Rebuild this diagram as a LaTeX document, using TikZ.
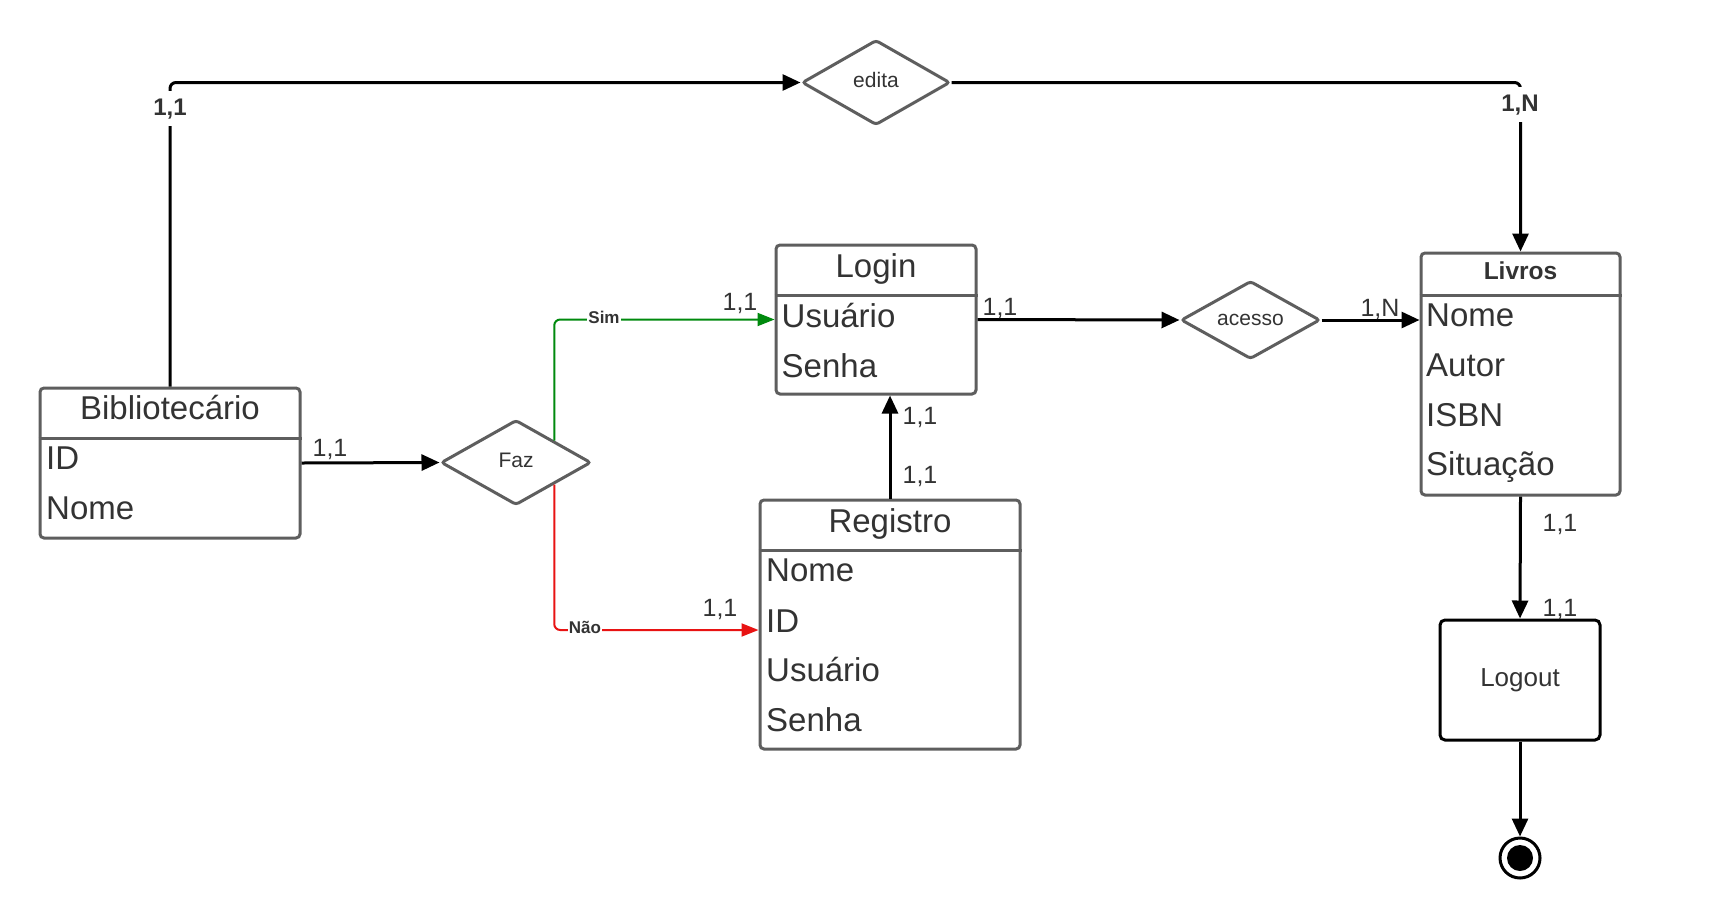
\documentclass[tikz,border=0pt]{standalone}
\usepackage{fontspec}
\setmainfont{Liberation Sans}
\usetikzlibrary{arrows.meta,shapes.geometric,calc}
\definecolor{txt}{HTML}{333333}
\definecolor{bord}{HTML}{5E5E5E}
\definecolor{simg}{HTML}{008A0E}
\definecolor{naor}{HTML}{E81313}
\newcommand{\reltext}[2][-4.5pt]{\smash{\raisebox{#1}{#2}}}
\begin{document}
\begin{tikzpicture}[x=1pt,y=-1pt,
  ent/.style={draw=bord, line width=3pt, rounded corners=4pt, inner sep=0, fill=white},
  sepline/.style={draw=bord, line width=3pt},
  rel/.style={diamond, draw=bord, line width=3pt, rounded corners=3pt, inner sep=0, fill=white,
    text=txt, font=\fontsize{21}{25}\selectfont},
  ttl/.style={font=\fontsize{33}{39}\selectfont, text=txt, inner sep=0, anchor=base},
  attr/.style={font=\fontsize{33}{39}\selectfont, text=txt, inner sep=0, anchor=base west},
  conn/.style={draw=black, line width=3pt, -{Triangle[length=18pt,width=16pt]}},
  connsim/.style={draw=simg, line width=2pt, rounded corners=6pt, -{Triangle[length=17pt,width=13pt]}},
  connnao/.style={draw=naor, line width=2pt, rounded corners=6pt, -{Triangle[length=17pt,width=13pt]}},
  card/.style={font=\fontsize{25}{30}\selectfont, text=txt, inner sep=0, anchor=base},
  bcard/.style={font=\bfseries\fontsize{24}{29}\selectfont, text=txt, fill=white, inner xsep=3pt, inner ysep=7pt, anchor=base},
  yn/.style={font=\bfseries\fontsize{17}{20}\selectfont, text=txt, fill=white, inner xsep=1pt, inner ysep=2pt, anchor=base}
]
\fill[white] (0,0) rectangle (1720,919);
\useasboundingbox (0,0) rectangle (1720,919);

% Bibliotecario
\node[ent, minimum width=260pt, minimum height=150pt] (bib) at (170,463) {};
\draw[sepline] (bib.west |- 0,438) -- (bib.east |- 0,438);
\node[ttl] (bibt) at (170,419) {Bibliotecário};
\node[attr] (bib1) at (46,469) {ID};
\node[attr] (bib2) at (46,519) {Nome};

% Login
\node[ent, minimum width=200pt, minimum height=149pt] (login) at (876,319.5) {};
\draw[sepline] (login.west |- 0,295) -- (login.east |- 0,295);
\node[ttl] (logint) at (876,277) {Login};
\node[attr] (login1) at (781.5,327) {Usuário};
\node[attr] (login2) at (781.5,377) {Senha};

% Livros
\node[ent, minimum width=199pt, minimum height=242pt] (livros) at (1520.5,374) {};
\draw[sepline] (livros.west |- 0,295) -- (livros.east |- 0,295);
\node[ttl, font=\bfseries\fontsize{24.5}{29}\selectfont] (livrost) at (1520.5,279) {Livros};
\node[attr] (liv1) at (1426,326.5) {Nome};
\node[attr] (liv2) at (1426,376.5) {Autor};
\node[attr] (liv3) at (1426,426) {ISBN};
\node[attr] (liv4) at (1426,475.5) {Situação};

% Registro
\node[ent, minimum width=260pt, minimum height=249pt] (reg) at (890,624.5) {};
\draw[sepline] (reg.west |- 0,550) -- (reg.east |- 0,550);
\node[ttl] (regt) at (890,532) {Registro};
\node[attr] (reg1) at (766,581) {Nome};
\node[attr] (reg2) at (766,632) {ID};
\node[attr] (reg3) at (766,681) {Usuário};
\node[attr] (reg4) at (766,731) {Senha};

% Relationships
\node[rel, minimum width=148pt, minimum height=85pt] (edita) at (876,82.5) {\reltext{edita}};
\node[rel, minimum width=150pt, minimum height=85pt] (faz) at (516,462.5) {\reltext{Faz}};
\node[rel, minimum width=139pt, minimum height=78pt] (acesso) at (1250.5,320) {\reltext[-5pt]{acesso}};

% Logout and end
\node[draw=black, line width=3pt, rounded corners=5pt, minimum width=160pt, minimum height=120pt,
  inner sep=0, font=\fontsize{26}{31}\selectfont, text=txt] (logout) at (1520,680) {Logout};
\node[circle, draw=black, line width=3pt, minimum size=40pt, inner sep=0] (endc) at (1520,858) {};
\node[circle, fill=black, minimum size=26pt, inner sep=0] (endi) at (endc.center) {};

% Connectors
\draw[conn] (bib.east) -- (faz.west);
\draw[conn] (login.east) -- (acesso.west);
\draw[conn] (acesso.east) -- (acesso.east -| livros.west);
\draw[conn] (reg.north) -- (reg.north |- login.south);
\draw[conn, rounded corners=6pt] (bib.north) |- (edita.west);
\draw[conn, rounded corners=6pt] (edita.east) -| (livros.north);
\draw[conn] (livros.south) -- (logout.north);
\draw[conn] (logout.south) -- (endc.north);
\draw[connsim] (faz.north east) |- (login.west);
\draw[connnao] (faz.south east) |- ([yshift=-5.5pt]reg.west);

% Labels
\node[bcard] (l1) at (170,115) {1,1};
\node[bcard] (l2) at (1520,111) {1,N};
\node[yn] (lsim) at (604,323) {Sim};
\node[yn] (lnao) at (585,633) {Não};
\node[card] (c1) at (330,456) {1,1};
\node[card] (c2) at (740,310) {1,1};
\node[card] (c3) at (1000,315) {1,1};
\node[card] (c4) at (1380,316) {1,N};
\node[card] (c5) at (920,424) {1,1};
\node[card] (c6) at (920,483) {1,1};
\node[card] (c7) at (720,616) {1,1};
\node[card] (c8) at (1560,531) {1,1};
\node[card] (c9) at (1560,616) {1,1};
\end{tikzpicture}
\end{document}
